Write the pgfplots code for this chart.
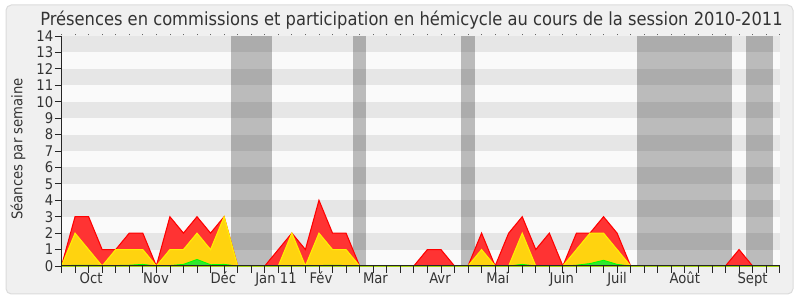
\documentclass[border=0pt]{standalone}
\usepackage{fontspec}
\setmainfont{DejaVu Sans Condensed}
\usepackage{pgfplots}
\usepackage{pgfplotstable}
\pgfplotsset{compat=1.18}
\definecolor{bgout}{HTML}{F0F0F0}
\definecolor{bgborder}{HTML}{DCDCDC}
\definecolor{stripelight}{HTML}{FAFAFA}
\definecolor{stripegray}{HTML}{E6E6E6}
\definecolor{redfill}{HTML}{FF3333}
\definecolor{redline}{HTML}{FF0000}
\definecolor{yelfill}{HTML}{FFD30F}
\definecolor{yelline}{HTML}{FFF000}
\definecolor{grnfill}{HTML}{2EE82E}
\definecolor{grnline}{HTML}{00FF00}
\definecolor{txt}{HTML}{333333}
\pgfplotstableread{
k r y g
0 0 0 0
1 3 2 0.05
2 3 1 0.05
3 1 0 0.03
4 1 1 0.03
5 2 1 0.05
6 2 1 0.1
7 0 0 0
8 3 1 0.03
9 2 1 0.1
10 3 2 0.4
11 2 1 0.08
12 3 3 0.1
13 0 0 0
14 0 0 0
15 0 0 0
16 1 0 0
17 2 2 0.03
18 1 0 0
19 4 2 0.03
20 2 1 0.05
21 2 1 0.03
22 0 0 0
23 0 0 0
24 0 0 0
25 0 0 0
26 0 0 0
27 1 0 0
28 1 0 0
29 0 0 0
30 0 0 0
31 2 1 0
32 0 0 0
33 2 0 0
34 3 2 0.1
35 1 0 0
36 2 0 0
37 0 0 0
38 2 1 0.05
39 2 2 0.15
40 3 2 0.35
41 2 1 0.1
42 0 0 0
43 0 0 0
44 0 0 0
45 0 0 0
46 0 0 0
47 0 0 0
48 0 0 0
49 0 0 0
50 1 0 0
51 0 0 0
52 0 0 0
53 0 0 0
}\data
\begin{document}
\begin{tikzpicture}
\fill[white] (0,0) rectangle (600pt,225pt);
\filldraw[fill=bgout, draw=bgborder, line width=0.75pt, rounded corners=4pt] (4.5pt,4.5pt) rectangle (594.75pt,221.25pt);
\begin{axis}[
  at={(46.125pt,25.5pt)}, anchor=south west,
  scale only axis, width=538.65pt, height=172.5pt,
  xmin=0, xmax=53, ymin=0, ymax=14,
  clip=false, axis on top,
  axis x line=bottom, axis y line=left,
  axis line style={-, black!85, line width=0.75pt},
  tick style={black!85, line width=0.6pt},
  tick align=outside, major tick length=5pt,
  ytick={0,1,...,14},
  xtick={0,1,...,53}, xticklabels={},
  /pgf/number format/assume math mode=true,
  yticklabel style={font=\fontsize{11}{11}\selectfont, text=txt, inner sep=1pt},
  extra x ticks={2.18,6.97,11.94,15.83,19.15,23.17,27.93,32.2,36.92,41.0,46.0,51.0},
  extra x tick labels={Oct,Nov,Déc,Jan 11,Fév,Mar,Avr,Mai,Juin,Juil,Août,Sept},
  extra x tick style={major tick length=0pt,
    xticklabel style={font=\fontsize{11}{11}\selectfont, text=txt, inner sep=0pt, anchor=base, yshift=-13pt}},
]
\fill[stripelight] (axis cs:0,0) rectangle (axis cs:53,14);
\fill[stripegray] (axis cs:0,1) rectangle (axis cs:53,2);
\fill[stripegray] (axis cs:0,3) rectangle (axis cs:53,4);
\fill[stripegray] (axis cs:0,5) rectangle (axis cs:53,6);
\fill[stripegray] (axis cs:0,7) rectangle (axis cs:53,8);
\fill[stripegray] (axis cs:0,9) rectangle (axis cs:53,10);
\fill[stripegray] (axis cs:0,11) rectangle (axis cs:53,12);
\fill[stripegray] (axis cs:0,13) rectangle (axis cs:53,14);
\fill[black, opacity=0.25] (axis cs:12.5,0) rectangle (axis cs:15.5,14);
\fill[black, opacity=0.25] (axis cs:21.5,0) rectangle (axis cs:22.5,14);
\fill[black, opacity=0.25] (axis cs:29.5,0) rectangle (axis cs:30.5,14);
\fill[black, opacity=0.25] (axis cs:42.5,0) rectangle (axis cs:49.5,14);
\fill[black, opacity=0.25] (axis cs:50.5,0) rectangle (axis cs:52.5,14);
\pgfplotsinvokeforeach{0,...,53}{\draw[black!60, line width=0.6pt] (axis cs:#1,14) ++(0,0.5pt) -- ++(0,0.9pt);}
\addplot[draw=redline, line width=0.8pt, fill=redfill] table[x=k,y=r] {\data} \closedcycle;
\addplot[draw=yelline, line width=0.8pt, fill=yelfill] table[x=k,y=y] {\data} \closedcycle;
\addplot[draw=grnline, line width=0.6pt, fill=grnfill] table[x=k,y=g] {\data} \closedcycle;
\end{axis}
\node[font=\fontsize{13.6}{15}\selectfont, text=txt] at (308.6pt,210pt) {Présences en commissions et participation en hémicycle au cours de la session 2010-2011};
\node[rotate=90, font=\fontsize{11}{12}\selectfont, text=txt] at (13.5pt,113.25pt) {Séances par semaine};
\end{tikzpicture}
\end{document}
